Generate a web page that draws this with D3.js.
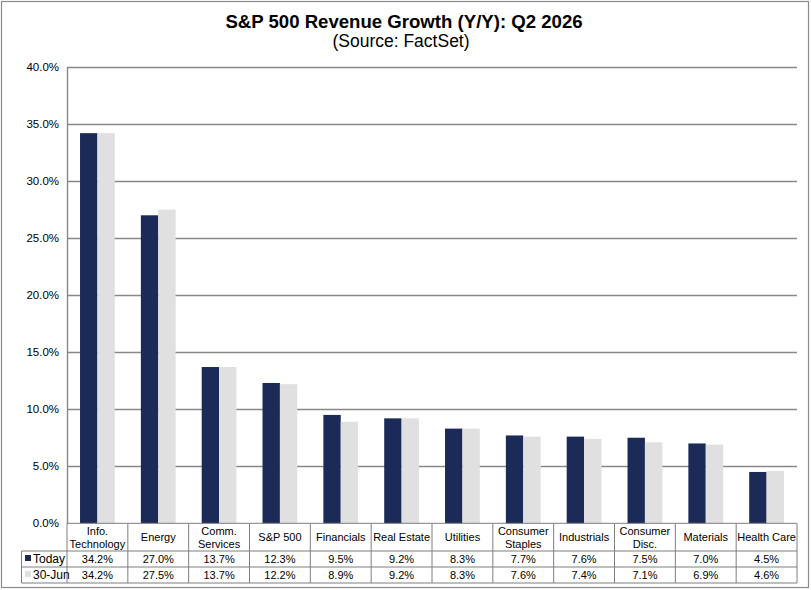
<!DOCTYPE html>
<html><head><meta charset="utf-8">
<script src="https://cdn.jsdelivr.net/npm/d3@7"></script>
<style>body{margin:0;background:#fff}svg{font-family:"Liberation Sans",Arial,sans-serif}</style>
</head><body><svg id="c" width="811" height="590"></svg>
<script>
const categories = ["Info.\nTechnology","Energy","Comm.\nServices","S&P 500","Financials","Real Estate","Utilities","Consumer\nStaples","Industrials","Consumer\nDisc.","Materials","Health Care"];
const seriesNames = ["Today","30-Jun"];
const today = [34.2,27.0,13.7,12.3,9.5,9.2,8.3,7.7,7.6,7.5,7.0,4.5];
const jun30 = [34.2,27.5,13.7,12.2,8.9,9.2,8.3,7.6,7.4,7.1,6.9,4.6];
const yTicks = [0,5,10,15,20,25,30,35,40];
const colors = ["#1b2a57","#e0e0e0"];

const svg = d3.select("#c");
const L = 67, R = 797, T = 67, B = 523.3;
const rowCat = 551, rowT = 567, rowJ = 583, legL = 21.5;
const gridC = "#888888", lineC = "#7f7f7f";

svg.append("rect").attr("x",1.5).attr("y",1.5).attr("width",807).attr("height",586).attr("fill","#fff").attr("stroke","#8a8a8a").attr("stroke-width",1.2);

svg.append("text").attr("x",404).attr("y",28).attr("text-anchor","middle").attr("font-size",18.6).attr("font-weight","bold").text("S&P 500 Revenue Growth (Y/Y): Q2 2026");
svg.append("text").attr("x",401).attr("y",47).attr("text-anchor","middle").attr("font-size",17.5).text("(Source: FactSet)");

const y = d3.scaleLinear().domain([0,40]).range([B,T]);
const x = d3.scaleBand().domain(categories).range([L,R]).paddingInner(0).paddingOuter(0);
const xs = d3.scaleBand().domain(seriesNames).range([0,x.bandwidth()]).paddingInner(0).paddingOuter(0.75);

svg.append("g").selectAll("line").data(yTicks.filter(d=>d>0)).join("line")
  .attr("x1",L).attr("x2",R).attr("y1",d=>Math.round(y(d))+0.5).attr("y2",d=>Math.round(y(d))+0.5)
  .attr("stroke",gridC).attr("stroke-width",1.4);

const yAxis = svg.append("g").attr("transform",`translate(${L},0)`)
  .call(d3.axisLeft(y).tickValues(yTicks).tickSize(0).tickPadding(8).tickFormat(d=>d3.format(".1f")(d)+"%"));
yAxis.select(".domain").attr("stroke",gridC).attr("stroke-width",1.4);
yAxis.selectAll("text").attr("font-size",11.5).attr("fill","#000").attr("font-family","Liberation Sans, Arial, sans-serif");

const series = [today, jun30];
series.forEach((vals,si)=>{
  svg.append("g").selectAll("rect").data(vals).join("rect")
    .attr("x",(d,i)=>x(categories[i])+xs(seriesNames[si]))
    .attr("y",d=>y(d))
    .attr("width",xs.bandwidth())
    .attr("height",d=>B-y(d))
    .attr("fill",colors[si]);
});

const tg = svg.append("g").attr("stroke",lineC).attr("stroke-width",1);
tg.append("line").attr("x1",L).attr("x2",R).attr("y1",B).attr("y2",B);
[rowCat,rowT,rowJ].forEach(yy=>tg.append("line").attr("x1",legL).attr("x2",R).attr("y1",yy).attr("y2",yy));
categories.forEach(c=>tg.append("line").attr("x1",x(c)).attr("x2",x(c)).attr("y1",B).attr("y2",rowJ));
tg.append("line").attr("x1",R).attr("x2",R).attr("y1",B).attr("y2",rowJ);
tg.append("line").attr("x1",legL).attr("x2",legL).attr("y1",rowCat).attr("y2",rowJ);

const fs = 11;
categories.forEach(c=>{
  const lines = c.split("\n");
  const cx = x(c)+x.bandwidth()/2;
  const cy = (B+rowCat)/2;
  lines.forEach((ln,k)=>{
    svg.append("text").attr("x",cx).attr("y",cy + (k-(lines.length-1)/2)*13 + 4)
      .attr("text-anchor","middle").attr("font-size",fs).text(ln);
  });
});
const rows = [[rowCat,rowT],[rowT,rowJ]];
series.forEach((vals,si)=>{
  const cy = (rows[si][0]+rows[si][1])/2 + 4;
  vals.forEach((v,i)=>{
    svg.append("text").attr("x",x(categories[i])+x.bandwidth()/2).attr("y",cy)
      .attr("text-anchor","middle").attr("font-size",fs).text(d3.format(".1f")(v)+"%");
  });
  svg.append("rect").attr("x",25).attr("y",cy-8).attr("width",6).attr("height",6).attr("fill",colors[si]);
  svg.append("text").attr("x",33).attr("y",cy).attr("font-size",12).text(seriesNames[si]);
});
</script></body></html>
